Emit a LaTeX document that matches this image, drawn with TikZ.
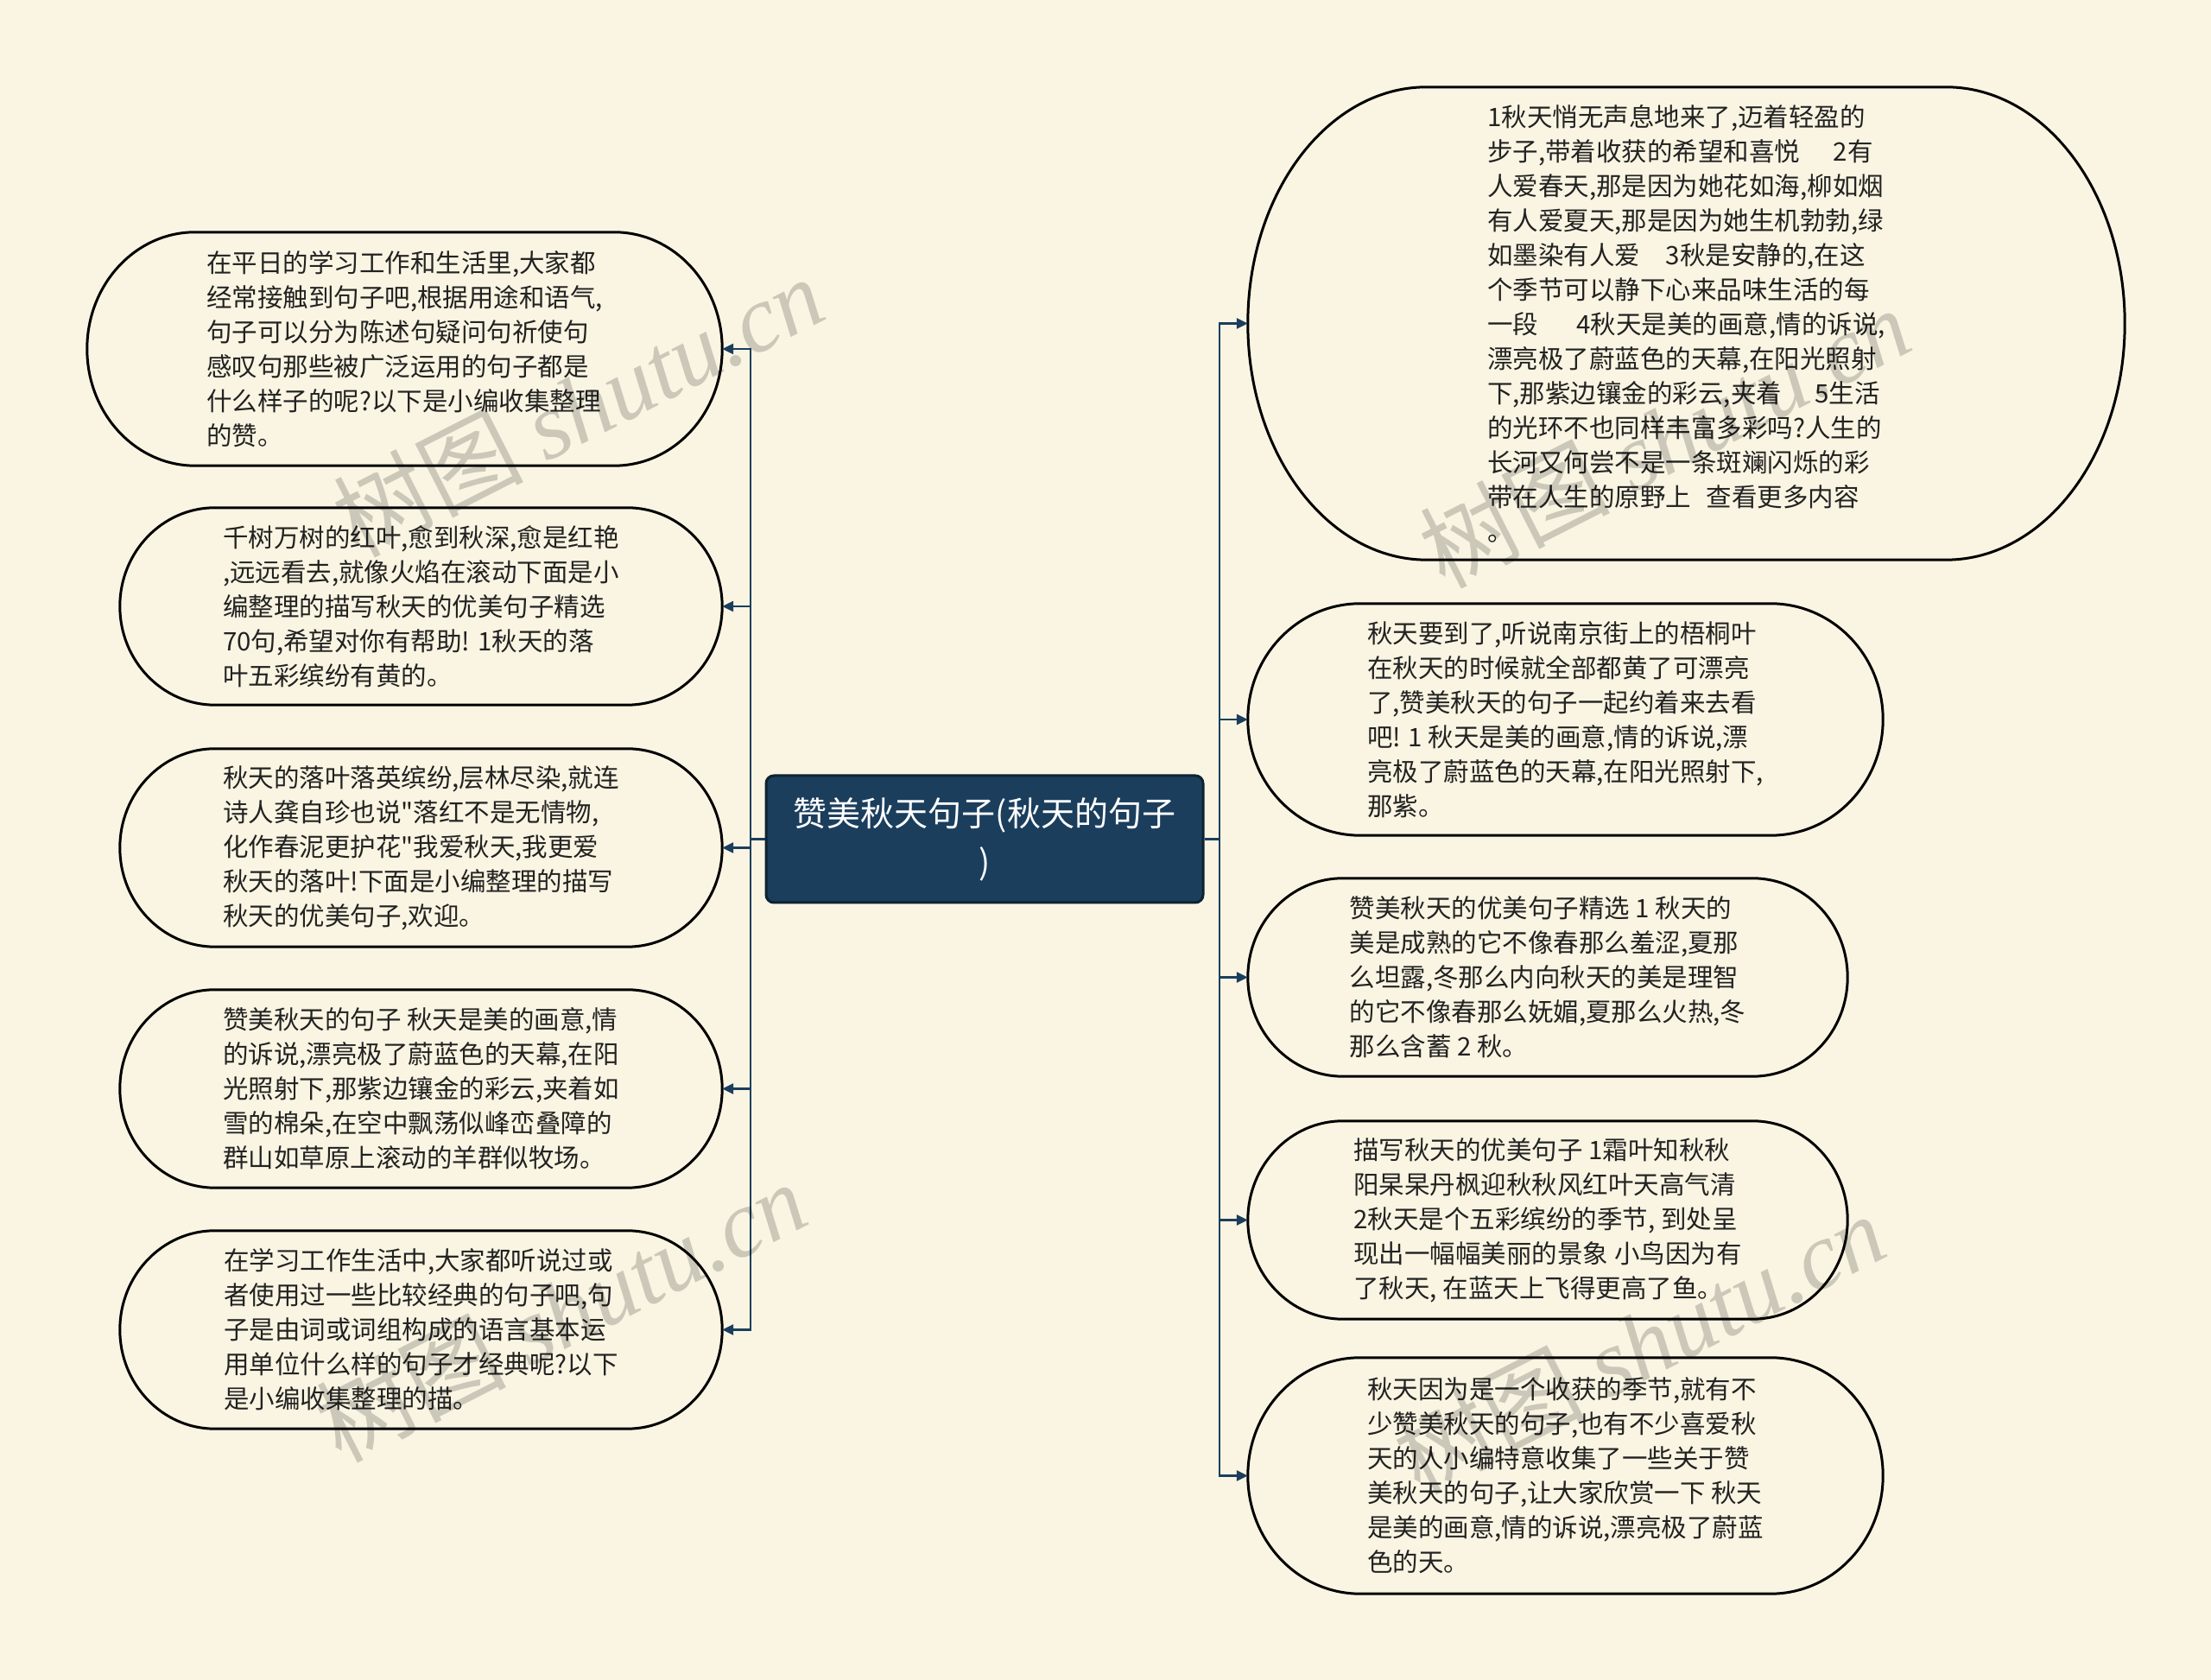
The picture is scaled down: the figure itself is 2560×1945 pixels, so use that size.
\documentclass[tikz,border=0pt]{standalone}
\usepackage{fontspec}
\newfontfamily\cjk{Noto Sans CJK SC}
\newfontfamily\wmserif{Liberation Serif}
\usetikzlibrary{calc,arrows.meta}
\pgfdeclarelayer{bottom}
\pgfdeclarelayer{mid}
\pgfsetlayers{bottom,mid,main}
\definecolor{bgc}{HTML}{FAF5E2}
\definecolor{navy}{HTML}{1B3E5D}
\definecolor{navyd}{HTML}{0E2232}
\definecolor{txt}{HTML}{222222}
\tikzset{
  leaf/.style={draw=none, align=left, inner sep=0pt, text=txt,
    font=\cjk\fontsize{29.5}{40}\selectfont},
  pillline/.style={draw=black, line width=3pt, fill=bgc},
  conn/.style={draw=navy, line width=2.5pt, -{Triangle[length=13pt,width=12pt]}},
  rootbox/.style={fill=navy, draw=navyd, line width=3pt, rounded corners=9pt,
    text=white, align=center, inner sep=0pt, font=\cjk\fontsize{39}{56}\selectfont},
  wm/.style={text=black, opacity=0.18, font=\cjk\fontsize{110}{110}\selectfont, inner sep=0pt}
}
\newcommand\pill[2]{%
  \path[pillline] let \p1=(#1.north west), \p2=(#1.south east), \n1={0.5*(\y1-\y2)} in
    (\x1+#2pt,\y1) -- (\x2-#2pt,\y1)
    arc[start angle=90,end angle=-90,x radius=#2pt,y radius=\n1]
    -- (\x1+#2pt,\y2)
    arc[start angle=270,end angle=90,x radius=#2pt,y radius=\n1] -- cycle;}
\begin{document}
\begin{tikzpicture}[x=1pt,y=1pt]
\useasboundingbox (0,0) rectangle (2560,1945);
\begin{pgfonlayer}{bottom}
\fill[bgc] (0,0) rectangle (2560,1945);
\end{pgfonlayer}

% root
\node[rootbox, minimum width=506pt, minimum height=147pt] (root) at (1140,973.5)
  {赞美秋天句子(秋天的句子\\)};

% left nodes
\node[leaf, minimum width=735pt, minimum height=270pt] (L1) at (468.5,1541)
  {在平日的学习工作和生活里,大家都\\
   经常接触到句子吧,根据用途和语气,\\
   句子可以分为陈述句疑问句祈使句\\
   感叹句那些被广泛运用的句子都是\\
   什么样子的呢?以下是小编收集整理\\
   的赞。};
\node[leaf, minimum width=697pt, minimum height=228pt] (L2) at (487.5,1243)
  {千树万树的红叶,愈到秋深,愈是红艳\\
   ,远远看去,就像火焰在滚动下面是小\\
   编整理的描写秋天的优美句子精选\\
   70句,希望对你有帮助! 1秋天的落\\
   叶五彩缤纷有黄的。};
\node[leaf, minimum width=697pt, minimum height=229pt] (L3) at (487.5,963.5)
  {秋天的落叶落英缤纷,层林尽染,就连\\
   诗人龚自珍也说"落红不是无情物,\\
   化作春泥更护花"我爱秋天,我更爱\\
   秋天的落叶!下面是小编整理的描写\\
   秋天的优美句子,欢迎。};
\node[leaf, minimum width=697pt, minimum height=229pt] (L4) at (487.5,684.5)
  {赞美秋天的句子 秋天是美的画意,情\\
   的诉说,漂亮极了蔚蓝色的天幕,在阳\\
   光照射下,那紫边镶金的彩云,夹着如\\
   雪的棉朵,在空中飘荡似峰峦叠障的\\
   群山如草原上滚动的羊群似牧场。};
\node[leaf, minimum width=697pt, minimum height=229pt] (L5) at (487.5,405.5)
  {在学习工作生活中,大家都听说过或\\
   者使用过一些比较经典的句子吧,句\\
   子是由词或词组构成的语言基本运\\
   用单位什么样的句子才经典呢?以下\\
   是小编收集整理的描。};

% right nodes
\node[leaf, minimum width=1015pt, minimum height=547pt] (R1) at (1952.5,1570.5)
  {1秋天悄无声息地来了,迈着轻盈的\\
   步子,带着收获的希望和喜悦\hspace{1.3em}2有\\
   人爱春天,那是因为她花如海,柳如烟\\
   有人爱夏天,那是因为她生机勃勃,绿\\
   如墨染有人爱\hspace{1em}3秋是安静的,在这\\
   个季节可以静下心来品味生活的每\\
   一段\hspace{1.5em}4秋天是美的画意,情的诉说,\\
   漂亮极了蔚蓝色的天幕,在阳光照射\\
   下,那紫边镶金的彩云,夹着\hspace{1.3em}5生活\\
   的光环不也同样丰富多彩吗?人生的\\
   长河又何尝不是一条斑斓闪烁的彩\\
   带在人生的原野上\hspace{0.6em}查看更多内容\\
   。};
\node[leaf, minimum width=735pt, minimum height=268pt] (R2) at (1812.5,1112)
  {秋天要到了,听说南京街上的梧桐叶\\
   在秋天的时候就全部都黄了可漂亮\\
   了,赞美秋天的句子一起约着来去看\\
   吧! 1 秋天是美的画意,情的诉说,漂\\
   亮极了蔚蓝色的天幕,在阳光照射下,\\
   那紫。};
\node[leaf, minimum width=694pt, minimum height=229pt] (R3) at (1792,813.5)
  {赞美秋天的优美句子精选 1 秋天的\\
   美是成熟的它不像春那么羞涩,夏那\\
   么坦露,冬那么内向秋天的美是理智\\
   的它不像春那么妩媚,夏那么火热,冬\\
   那么含蓄 2 秋。};
\node[leaf, minimum width=694pt, minimum height=229pt] (R4) at (1792,532.5)
  {描写秋天的优美句子 1霜叶知秋秋\\
   阳杲杲丹枫迎秋秋风红叶天高气清\\
   2秋天是个五彩缤纷的季节, 到处呈\\
   现出一幅幅美丽的景象 小鸟因为有\\
   了秋天, 在蓝天上飞得更高了鱼。};
\node[leaf, minimum width=735pt, minimum height=273pt] (R5) at (1812.5,236.5)
  {秋天因为是一个收获的季节,就有不\\
   少赞美秋天的句子,也有不少喜爱秋\\
   天的人小编特意收集了一些关于赞\\
   美秋天的句子,让大家欣赏一下 秋天\\
   是美的画意,情的诉说,漂亮极了蔚蓝\\
   色的天。};

\begin{pgfonlayer}{mid}
\pill{L1}{125}
\pill{L2}{110}
\pill{L3}{110}
\pill{L4}{110}
\pill{L5}{110}
\pill{R1}{207}
\pill{R2}{130}
\pill{R3}{110}
\pill{R4}{110}
\pill{R5}{130}
\end{pgfonlayer}

% connectors
\coordinate (lj) at (869,973.5);
\coordinate (rj) at (1412,973.5);
\foreach \n in {L1,L2,L3,L4,L5}{
  \draw[conn] (root.west) -- (lj) |- (\n.east);
}
\foreach \n in {R1,R2,R3,R4,R5}{
  \draw[conn] (root.east) -- (rj) |- (\n.west);
}

% watermarks
\node[wm, rotate=27] (w1) at (669,1475) {树图 {\wmserif\itshape shutu.cn}};
\node[wm, rotate=27] (w2) at (1927,1439) {树图 {\wmserif\itshape shutu.cn}};
\node[wm, rotate=27] (w3) at (649,427) {树图 {\wmserif\itshape shutu.cn}};
\node[wm, rotate=27] (w4) at (1898,390) {树图 {\wmserif\itshape shutu.cn}};
\end{tikzpicture}
\end{document}
